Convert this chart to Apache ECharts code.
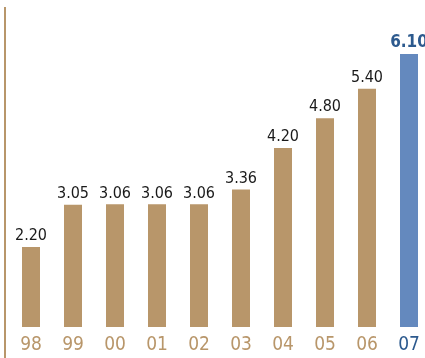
<!DOCTYPE html>
<html>
<head>
<meta charset="utf-8">
<script src="https://cdn.jsdelivr.net/npm/echarts@6/dist/echarts.min.js"></script>
<style>
  html, body { margin: 0; padding: 0; background: #fff; }
  #chart { width: 425px; height: 358px; }
</style>
</head>
<body>
<div id="chart"></div>
<script>
// Yearly values, 1998–2007
const years = ['98', '99', '00', '01', '02', '03', '04', '05', '06', '07'];
const values = [2.20, 3.05, 3.06, 3.06, 3.06, 3.36, 4.20, 4.80, 5.40, 6.10];
const valueLabels = ['2.20', '3.05', '3.06', '3.06', '3.06', '3.36', '4.20', '4.80', '5.40', '6.10'];

const TAN = '#b8966a';
const BLUE = '#6489be';
const DARK_BLUE = '#2d5a8e';
const FONT = '"DejaVu Sans Condensed", "Liberation Sans Narrow", sans-serif';
const last = years.length - 1;

const chart = echarts.init(document.getElementById('chart'), null, { renderer: 'canvas' });

chart.setOption({
  animation: false,
  // the last category runs slightly past the right edge of the canvas
  grid: { left: 10, width: 420, top: 9.5, bottom: 31, outerBoundsMode: 'none' },
  xAxis: {
    type: 'category',
    data: years,
    axisLine: { show: false },
    axisTick: { show: false },
    axisLabel: {
      margin: 9,
      fontFamily: FONT,
      fontSize: 19,
      color: (v, i) => (i === last ? DARK_BLUE : TAN)
    }
  },
  yAxis: {
    type: 'value',
    min: 0.58,
    max: 7.0,
    show: false
  },
  series: [{
    type: 'bar',
    barWidth: 18,
    data: values.map((v, i) => ({
      value: v,
      itemStyle: { color: i === last ? BLUE : TAN },
      label: i === last
        ? { color: DARK_BLUE, fontWeight: 'bold', fontSize: 17 }
        : {}
    })),
    label: {
      show: true,
      position: 'top',
      distance: 3,
      fontFamily: FONT,
      fontSize: 16,
      color: '#1a1a1a',
      formatter: p => valueLabels[p.dataIndex]
    }
  }],
  graphic: [{
    type: 'line',
    shape: { x1: 5, y1: 7, x2: 5, y2: 358 },
    style: { stroke: TAN, lineWidth: 2 }
  }]
});
</script>
</body>
</html>
